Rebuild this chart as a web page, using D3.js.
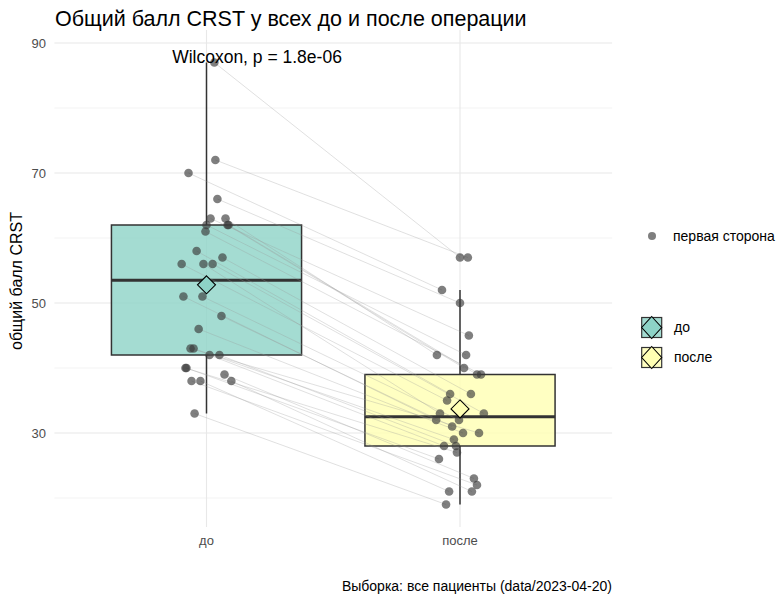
<!DOCTYPE html>
<html>
<head>
<meta charset="utf-8">
<script src="https://cdn.jsdelivr.net/npm/d3@7"></script>
<style>
  body { margin: 0; background: #fff; }
  text { font-family: "Liberation Sans", Arial, sans-serif; }
</style>
</head>
<body>
<div id="chart"></div>
<script>
// categories
var groups = ["до", "после"];
var groupColors = ["#8dd3c7", "#ffffb3"];

// CRST score per patient, before and after (paired by index)
var scoresBefore = [87, 72, 70, 66, 63, 63, 62, 62, 62, 61, 58, 57, 56, 56, 56, 51, 51, 48, 46, 43, 43, 42, 42, 40, 40, 39, 38, 38, 38, 33];
var scoresAfter  = [57, 57, 52, 50, 45, 42, 42, 40, 39, 39, 36, 36, 35, 33, 33, 32, 32, 31, 30, 30, 29, 28, 28, 27, 26, 23, 22, 21, 21, 19];

// horizontal jitter (category units)
var jitterBefore = [0.031, 0.035, -0.071, 0.043, 0.016, 0.075, 0, 0.083, 0.087, -0.004, -0.039, 0.063, -0.098, -0.012, 0.024, -0.091, -0.016, 0.059, -0.031, -0.063, -0.051, 0.012, 0.051, -0.083, -0.079, 0.071, -0.059, -0.024, 0.098, -0.047];
var jitterAfter  = [0, 0.031, -0.071, 0, 0.035, -0.091, 0.024, 0.016, 0.067, 0.083, -0.039, 0.043, -0.051, -0.079, 0.094, -0.094, -0.004, -0.031, 0.012, 0.075, -0.024, -0.063, -0.016, -0.012, -0.083, 0.055, 0.067, -0.043, 0.047, -0.055];

// box statistics: lower whisker, q1, median, q3, upper whisker, mean
var boxLow    = [33, 19];
var boxQ1     = [42, 28];
var boxMedian = [53.5, 32.5];
var boxQ3     = [62, 39];
var boxHigh   = [87, 52];
var boxMean   = [52.8, 33.7];

var yTicks = [30, 50, 70, 90];
var yMinor = [20, 40, 60, 80];

var W = 777, H = 597;
var svg = d3.select("#chart").append("svg").attr("width", W).attr("height", H);

var x = d3.scaleLinear().domain([1, 2]).range([206.5, 460]);
var y = d3.scaleLinear().domain([30, 90]).range([433, 43]);
var panelL = x(0.4), panelR = x(2.6);

// grid
svg.append("g").selectAll("line").data(yMinor).enter().append("line")
  .attr("x1", panelL).attr("x2", panelR)
  .attr("y1", function(d) { return y(d); }).attr("y2", function(d) { return y(d); })
  .attr("stroke", "#f0f0f0").attr("stroke-width", 0.8);
svg.append("g").selectAll("line").data(yTicks).enter().append("line")
  .attr("x1", panelL).attr("x2", panelR)
  .attr("y1", function(d) { return y(d); }).attr("y2", function(d) { return y(d); })
  .attr("stroke", "#e8e8e8").attr("stroke-width", 1.1);
svg.append("g").selectAll("line").data([1, 2]).enter().append("line")
  .attr("x1", function(d) { return x(d); }).attr("x2", function(d) { return x(d); })
  .attr("y1", 30).attr("y2", 527)
  .attr("stroke", "#e8e8e8").attr("stroke-width", 1.1);

// tick labels
svg.append("g").selectAll("text").data(yTicks).enter().append("text")
  .attr("x", 46).attr("y", function(d) { return y(d); })
  .attr("dy", "0.35em").attr("text-anchor", "end")
  .attr("font-size", 13).attr("fill", "#4d4d4d")
  .text(function(d) { return d; });
svg.append("g").selectAll("text").data(groups).enter().append("text")
  .attr("x", function(d, i) { return x(i + 1); }).attr("y", 545)
  .attr("text-anchor", "middle")
  .attr("font-size", 13).attr("fill", "#4d4d4d")
  .text(function(d) { return d; });

// y title
svg.append("text")
  .attr("transform", "translate(22,281) rotate(-90)")
  .attr("text-anchor", "middle").attr("font-size", 16).attr("fill", "#000")
  .text("общий балл CRST");

// boxplots
var boxW = 0.75;
var boxes = svg.append("g");
groups.forEach(function(g, i) {
  var cx = x(i + 1);
  var half = (x(1 + boxW / 2) - x(1));
  boxes.append("line")
    .attr("x1", cx).attr("x2", cx).attr("y1", y(boxQ3[i])).attr("y2", y(boxHigh[i]))
    .attr("stroke", "#333").attr("stroke-width", 1.5);
  boxes.append("line")
    .attr("x1", cx).attr("x2", cx).attr("y1", y(boxQ1[i])).attr("y2", y(boxLow[i]))
    .attr("stroke", "#333").attr("stroke-width", 1.5);
  boxes.append("rect")
    .attr("x", cx - half).attr("width", half * 2)
    .attr("y", y(boxQ3[i])).attr("height", y(boxQ1[i]) - y(boxQ3[i]))
    .attr("fill", groupColors[i]).attr("fill-opacity", 0.8)
    .attr("stroke", "#333").attr("stroke-width", 1.5);
  boxes.append("line")
    .attr("x1", cx - half).attr("x2", cx + half)
    .attr("y1", y(boxMedian[i])).attr("y2", y(boxMedian[i]))
    .attr("stroke", "#333").attr("stroke-width", 3);
});

// paired lines
var pairs = scoresBefore.map(function(v, k) {
  return { a: v, b: scoresAfter[k], ja: jitterBefore[k], jb: jitterAfter[k] };
});
svg.append("g").selectAll("line").data(pairs).enter().append("line")
  .attr("x1", function(d) { return x(1 + d.ja); })
  .attr("y1", function(d) { return y(d.a); })
  .attr("x2", function(d) { return x(2 + d.jb); })
  .attr("y2", function(d) { return y(d.b); })
  .attr("stroke", "#999").attr("stroke-opacity", 0.3).attr("stroke-width", 1);

// points
var pts = [];
scoresBefore.forEach(function(v, k) { pts.push({ g: 1, v: v, j: jitterBefore[k] }); });
scoresAfter.forEach(function(v, k) { pts.push({ g: 2, v: v, j: jitterAfter[k] }); });
svg.append("g").selectAll("circle").data(pts).enter().append("circle")
  .attr("cx", function(d) { return x(d.g + d.j); })
  .attr("cy", function(d) { return y(d.v); })
  .attr("r", 4.3)
  .attr("fill", "#3a3a3a").attr("fill-opacity", 0.65);

// means
svg.append("g").selectAll("path").data(boxMean).enter().append("path")
  .attr("d", function(d, i) {
    var cx = x(i + 1), cy = y(d), r = 9;
    return "M" + cx + "," + (cy - r) + "L" + (cx + r) + "," + cy + "L" + cx + "," + (cy + r) + "L" + (cx - r) + "," + cy + "Z";
  })
  .attr("fill", function(d, i) { return groupColors[i]; })
  .attr("stroke", "#000").attr("stroke-width", 1.1);

// test label
svg.append("text")
  .attr("x", 257).attr("y", 63).attr("text-anchor", "middle")
  .attr("font-size", 17.5).attr("fill", "#000")
  .text("Wilcoxon, p = 1.8e-06");

// title
svg.append("text")
  .attr("x", 55).attr("y", 26).attr("font-size", 21.5).attr("fill", "#000")
  .text("Общий балл CRST у всех до и после операции");

// caption
svg.append("text")
  .attr("x", 612).attr("y", 591).attr("text-anchor", "end")
  .attr("font-size", 14).attr("fill", "#000")
  .text("Выборка: все пациенты (data/2023-04-20)");

// legends
var leg = svg.append("g");
leg.append("circle").attr("cx", 652).attr("cy", 236).attr("r", 4)
  .attr("fill", "#3a3a3a").attr("fill-opacity", 0.65);
leg.append("text").attr("x", 673).attr("y", 236).attr("dy", "0.35em")
  .attr("font-size", 14).text("первая сторона");

groups.forEach(function(g, i) {
  var ky = 327.5 + i * 30, kx = 651.7;
  leg.append("rect").attr("x", kx - 10).attr("y", ky - 10).attr("width", 20).attr("height", 20)
    .attr("fill", groupColors[i]).attr("fill-opacity", 0.8)
    .attr("stroke", "#333").attr("stroke-width", 1.2);
  leg.append("path")
    .attr("d", "M" + kx + "," + (ky - 11) + "L" + (kx + 10) + "," + ky + "L" + kx + "," + (ky + 11) + "L" + (kx - 10) + "," + ky + "Z")
    .attr("fill", groupColors[i]).attr("stroke", "#000").attr("stroke-width", 1.1);
  leg.append("text").attr("x", 674).attr("y", ky).attr("dy", "0.35em")
    .attr("font-size", 14).text(g);
});
</script>
</body>
</html>
